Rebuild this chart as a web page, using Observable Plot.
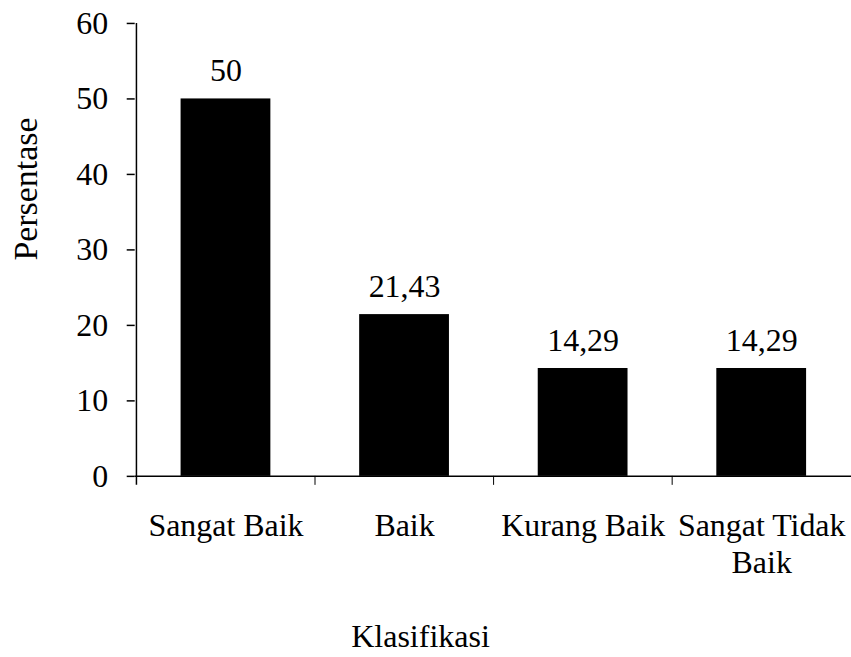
<!DOCTYPE html>
<html><head><meta charset="utf-8">
<script src="https://cdn.jsdelivr.net/npm/d3@7"></script>
<script src="https://cdn.jsdelivr.net/npm/@observablehq/plot@0.6"></script>
<style>
html,body{margin:0;padding:0;background:#fff;overflow:hidden;}
#chart{width:851px;height:580px;overflow:hidden;}
#xtitle{font-family:"Liberation Serif","Times New Roman",serif;font-size:32px;line-height:34px;width:851px;text-align:center;box-sizing:border-box;padding-right:10px;margin-top:39px;color:#000}
</style></head><body>
<div id="chart"></div>
<div id="xtitle"></div>
<script>
const categories = ["Sangat Baik", "Baik", "Kurang Baik", "Sangat Tidak Baik"];
const tickLabels = ["Sangat Baik", "Baik", "Kurang Baik", "Sangat Tidak\nBaik"];
const values = [50, 21.43, 14.29, 14.29];
const valueLabels = ["50", "21,43", "14,29", "14,29"];
const yTicks = [0, 10, 20, 30, 40, 50, 60];
const xTitle = "Klasifikasi";
const yTitle = "Persentase";

const data = categories.map((c, i) => ({category: c, value: values[i], label: valueLabels[i]}));
const W = 853, H = 580, mL = 135, mR = 0, mT = 23, mB = 103;
const step = (W - mL - mR) / categories.length;

const chart = Plot.plot({
  width: W, height: H,
  marginLeft: mL, marginRight: mR, marginTop: mT, marginBottom: mB,
  style: {fontFamily: "'Liberation Serif', 'Times New Roman', serif", fontSize: "32px", color: "#000", background: "#fff", overflow: "visible"},
  x: {domain: categories, paddingInner: 0.5, paddingOuter: 0.25, label: null},
  y: {domain: [0, 60], label: null},
  marks: [
    Plot.barY(data, {x: "category", y: "value", fill: "#000"}),
    Plot.ruleY([0], {stroke: "#000", strokeWidth: 1.5}),
    Plot.ruleX([categories[0]], {x: d => d, y1: 60, y2: 0, dx: -step / 2, insetBottom: -9, stroke: "#000", strokeWidth: 1.5}),
    Plot.ruleX(categories.slice(1), {x: d => d, y1: 0, y2: 0, dx: -step / 2, insetBottom: -9, stroke: "#000", strokeWidth: 1}),
    Plot.axisY({ticks: yTicks, tickSize: 8, tickPadding: 19, strokeWidth: 1.5, label: null, tickFormat: d => String(d)}),
    Plot.axisX({tickSize: 0, tickPadding: 33, label: null, lineHeight: 1.16, tickFormat: d => tickLabels[categories.indexOf(d)]}),
    Plot.text(data, {x: "category", y: "value", text: "label", lineAnchor: "bottom", dy: -18}),
    Plot.text([yTitle], {frameAnchor: "top-left", textAnchor: "middle", lineAnchor: "middle", rotate: -90, dx: -109, dy: 166, fontSize: 34})
  ]
});
document.getElementById("chart").appendChild(chart);
document.getElementById("xtitle").textContent = xTitle;
</script>
</body></html>
